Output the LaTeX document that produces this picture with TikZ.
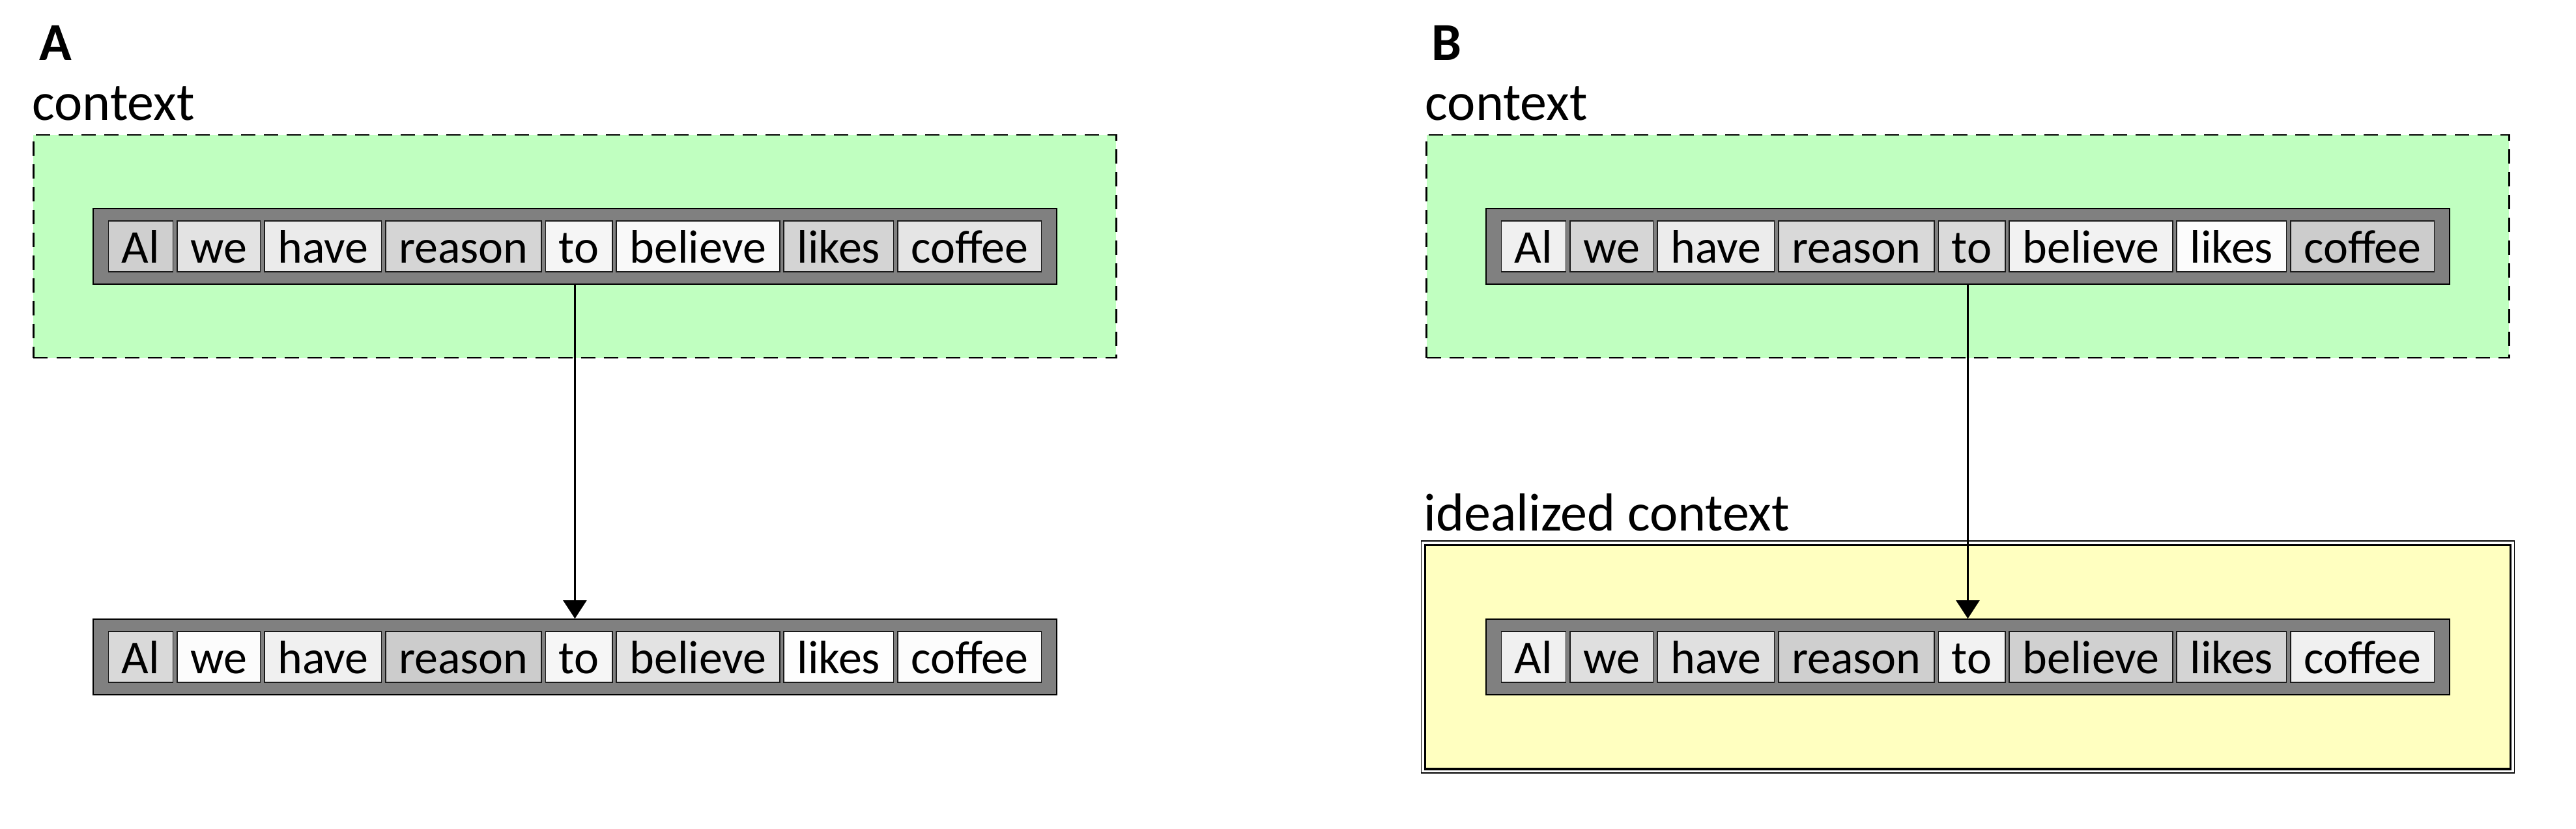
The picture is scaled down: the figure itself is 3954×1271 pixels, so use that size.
\documentclass[tikz,border=0pt]{standalone}
\usepackage{fontspec}
\setmainfont{Carlito}
\usetikzlibrary{positioning,fit,backgrounds,arrows.meta}
\definecolor{ctxgreen}{RGB}{192,255,192}
\definecolor{idyellow}{RGB}{255,255,192}
\definecolor{bargray}{RGB}{128,128,128}
\begin{document}
\begin{tikzpicture}[x=0.2pt,y=-0.2pt,
  tok/.style={draw=black!90, line width=0.35pt, inner xsep=4.1pt, inner ysep=0pt,
    text height=12.8pt, text depth=2.8pt, font=\fontsize{14.4}{17}\selectfont},
  bar/.style={draw=black, line width=0.4pt, fill=bargray, inner xsep=4.6pt, inner ysep=3.6pt},
  ctx/.style={draw=black, line width=0.5pt, dash pattern=on 4.4pt off 2.6pt, fill=ctxgreen,
    inner xsep=22.8pt, inner ysep=26.2pt},
  idinner/.style={draw=black, line width=0.65pt, fill=idyellow, inner xsep=23.2pt, inner ysep=26.4pt},
  idouter/.style={draw=black, line width=0.35pt, fill=white, inner xsep=24.4pt, inner ysep=27.6pt},
  lbl/.style={inner sep=0pt, anchor=base west, font=\fontsize{16.4}{19}\selectfont},
  panel/.style={inner sep=0pt, anchor=base west, font=\fontsize{16.4}{19}\selectfont\bfseries},
  arr/.style={line width=0.45pt, -{Triangle[width=7.2pt,length=5.6pt]}}]
\useasboundingbox (0,0) rectangle (3954,1271);

% ---------- Panel A ----------
\coordinate (a0) at (161,378);
\foreach \w/\f [count=\i, remember=\i as \j (initially 0)] in
  {Al/19,we/11,have/8,reason/16.5,to/4,believe/2.5,likes/17,coffee/10}
  \node[tok, fill=black!\f, right=0.9pt of a\j] (a\i) {\w};
\coordinate (c0) at (161,1008);
\foreach \w/\f [count=\i, remember=\i as \j (initially 0)] in
  {Al/15,we/1,have/6,reason/20,to/3.5,believe/11,likes/0.5,coffee/1}
  \node[tok, fill=black!\f, right=0.9pt of c\j] (c\i) {\w};

% ---------- Panel B ----------
\coordinate (b0) at (2299,378);
\foreach \w/\f [count=\i, remember=\i as \j (initially 0)] in
  {Al/6,we/16,have/7.5,reason/15,to/14.5,believe/5,likes/1,coffee/20}
  \node[tok, fill=black!\f, right=0.9pt of b\j] (b\i) {\w};
\coordinate (d0) at (2299,1008);
\foreach \w/\f [count=\i, remember=\i as \j (initially 0)] in
  {Al/6,we/12.5,have/12,reason/19,to/5,believe/18.5,likes/17,coffee/6}
  \node[tok, fill=black!\f, right=0.9pt of d\j] (d\i) {\w};

\begin{scope}[on background layer]
  \node[ctx, fit=(a1)(a8)] (ctxA) {};
  \node[ctx, fit=(b1)(b8)] (ctxB) {};
  \node[idouter, fit=(d1)(d8)] (idB) {};
  \node[idinner, fit=(d1)(d8)] (idBin) {};
  \node[bar, fit=(a1)(a8)] (A1) {};
  \node[bar, fit=(c1)(c8)] (A2) {};
  \node[bar, fit=(b1)(b8)] (B1) {};
  \node[bar, fit=(d1)(d8)] (B2) {};
\end{scope}

% labels
\node[panel] (labA) at (60,92) {A};
\node[panel] (labB) at (2196,92) {B};
\node[lbl] (ctxAlab) at ([shift={(-0.3pt,4.2pt)}]ctxA.north west) {context};
\node[lbl] (ctxBlab) at ([shift={(-0.3pt,4.2pt)}]ctxB.north west) {context};
\node[lbl] (idlab) at ([shift={(0.8pt,3pt)}]idB.north west) {idealized context};

% arrows
\draw[arr] (A1.south) -- (A2.north);
\draw[arr] (B1.south) -- (B2.north);
\end{tikzpicture}
\end{document}
